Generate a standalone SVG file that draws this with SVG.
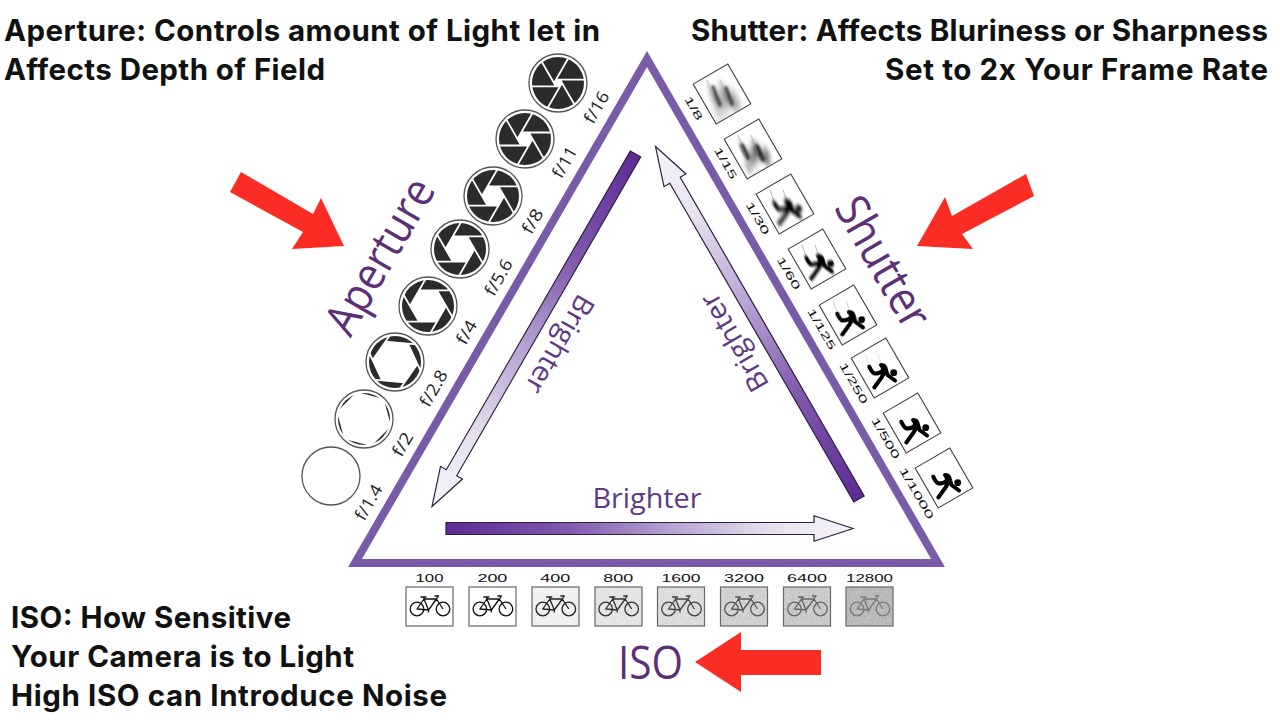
<svg xmlns="http://www.w3.org/2000/svg" width="1280" height="720" viewBox="0 0 1280 720">
<style>
.cap{font-family:"Inter","Liberation Sans",sans-serif;font-weight:700;font-size:29.5px;fill:#111}
.big{font-family:"Open Sans","Noto Sans",sans-serif;font-weight:400;fill:#5c2f78;text-anchor:middle;dominant-baseline:central}
.br{font-family:"Open Sans","Noto Sans",sans-serif;font-weight:400;font-size:28px;fill:#5e3a82;text-anchor:middle;dominant-baseline:central}
.f{font-family:"Open Sans","Noto Sans",sans-serif;font-size:17px;fill:#222;text-anchor:middle;dominant-baseline:central}
.sp{font-family:"Liberation Sans",Arial,sans-serif;font-size:10.5px;fill:#111;text-anchor:middle;dominant-baseline:central}
.ring{fill:#fff;stroke:#555;stroke-width:1.3}
.disc{fill:#2b2b2b}
.iris{fill:#fff}
.blade{fill:none;stroke:#fff;stroke-width:1.8;vector-effect:non-scaling-stroke}
.frame{fill:#fff;stroke:#444;stroke-width:1.1}
.isobox{stroke:#666;stroke-width:1.2}
.red{fill:#fb2c24}
.runner{fill:none;stroke:#000;stroke-width:4;stroke-linecap:round;stroke-linejoin:round}
.streak{fill:none;stroke:#999;stroke-width:1}
.smear{fill:none;stroke:#222;stroke-width:3.5;stroke-linecap:round}
.bike{fill:none;stroke-width:1.3;stroke-linejoin:round}
.arr{fill:url(#ag);stroke:#2d2140;stroke-width:1.2}
</style>
<defs>
<linearGradient id="ag" gradientUnits="userSpaceOnUse" x1="0" y1="0" x2="407" y2="0">
<stop offset="0" stop-color="#5c2b95"/><stop offset=".3" stop-color="#8059ad"/><stop offset=".55" stop-color="#b7a2d2"/><stop offset=".8" stop-color="#e6e0ef"/><stop offset="1" stop-color="#f7f6fa"/>
</linearGradient>
<path id="arrow" class="arr" d="M0-6H368V-12.7L407 0 368 12.7V6H0Z"/>
<clipPath id="irisclip"><circle r="26.5"/></clipPath>
<clipPath id="sc"><rect x="-22.5" y="-19.5" width="45" height="39"/></clipPath>
<g id="iris">
<polygon class="iris" points="1,0 .5,.866 -.5,.866 -1,0 -.5,-.866 .5,-.866"/>
<path class="blade" d="M-.5-.866L10.5-.866M.5-.866L6 8.66M1 0L-4.5 9.526M.5 .866L-10.5 .866M-.5 .866L-6-8.66M-1 0L4.5-9.526"/>
</g>
<g id="runner">
<circle cx="13.7" cy="4.7" r="3.4" fill="#000"/>
<path class="runner" d="M-10.7-1.3Q-8.5 4-5.5 5.5Q0 5.5 2.5 3Q4-.5 1-3Q4.5-3 5.5 0L7.5 7L15 12.5M3.5 6Q1.5 10-1 13L-5.7 19.5"/>
</g>
<path id="streaks" class="streak" d="M-15-14L-7 8M-2-14L5 5"/>
<filter id="b8" x="-100%" y="-100%" width="300%" height="300%"><feGaussianBlur stdDeviation="8 2"/></filter>
<filter id="b15" x="-100%" y="-100%" width="300%" height="300%"><feGaussianBlur stdDeviation="5.5 1.6"/></filter>
<filter id="b30" x="-100%" y="-100%" width="300%" height="300%"><feGaussianBlur stdDeviation="2.2 1"/></filter>
<filter id="b60" x="-100%" y="-100%" width="300%" height="300%"><feGaussianBlur stdDeviation="1.4 .7"/></filter>
<filter id="b125" x="-100%" y="-100%" width="300%" height="300%"><feGaussianBlur stdDeviation=".6 .3"/></filter>
<filter id="smear" x="-100%" y="-100%" width="300%" height="300%"><feGaussianBlur stdDeviation="1.3"/></filter>
<filter id="noise" x="0" y="0" width="100%" height="100%"><feTurbulence type="fractalNoise" baseFrequency="1.1" numOctaves="2" seed="4"/><feColorMatrix type="matrix" values="0 0 0 0 .2 0 0 0 0 .2 0 0 0 0 .2 3 0 0 0 -1.2"/></filter>
<g id="bike">
<circle cx="-12.5" cy="2.5" r="6.8"/><circle cx="13.5" cy="2.5" r="6.8"/>
<path d="M-12.5 2.5L-5.5-7.5H7L-1 3.5ZM-5.5-7.5L-1 3.5M7-7.5L13.5 2.5M-9-9.5H-3M-5.5-9.5V-7.5M5-10.5H9L7-7.5M-1 3.5V6"/>
</g>
</defs>
<rect width="1280" height="720" fill="#fff"/>

<g id="triangle"><path d="M647 59L355 563H938Z" fill="none" stroke="#7a5ba8" stroke-width="8" stroke-miterlimit="10"/></g>

<g id="connectors">
<use href="#arrow" transform="translate(635.5,154) rotate(120)"/>
<use href="#arrow" transform="translate(859,499) rotate(240)"/>
<use href="#arrow" transform="translate(446,528.5)"/>
<polygon class="red" points="241,172 313,214 321,198 344,246 292,249 303,232 230,192"/>
<polygon class="red" points="1026,174 952,216 945,197 917,246 973,249 962,234 1034,196"/>
<polygon class="red" points="821,650 741,650 741,632 695,662 741,692 741,675 821,675"/>
</g>

<g id="texts">
<text class="cap" x="4" y="41" textLength="596">Aperture: Controls amount of Light let in</text>
<text class="cap" x="4" y="80" textLength="321">Affects Depth of Field</text>
<text class="cap" x="691" y="41" textLength="577">Shutter: Affects Bluriness or Sharpness</text>
<text class="cap" x="885" y="80" textLength="383">Set to 2x Your Frame Rate</text>
<text class="cap" x="11" y="628" textLength="280">ISO: How Sensitive</text>
<text class="cap" x="11" y="667" textLength="343">Your Camera is to Light</text>
<text class="cap" x="11" y="706" textLength="436">High ISO can Introduce Noise</text>
<text class="big" font-size="46" textLength="172" lengthAdjust="spacingAndGlyphs" transform="translate(378,255) rotate(-60)">Aperture</text>
<text class="big" font-size="46" textLength="144" lengthAdjust="spacingAndGlyphs" transform="translate(885,261) rotate(60)">Shutter</text>
<text class="big" font-size="46" textLength="65" lengthAdjust="spacingAndGlyphs" x="650.5" y="661">ISO</text>
<text class="br" textLength="109" lengthAdjust="spacingAndGlyphs" x="647" y="497">Brighter</text>
<text class="br" textLength="109" lengthAdjust="spacingAndGlyphs" transform="translate(561,345) rotate(120)">Brighter</text>
<text class="br" textLength="109" lengthAdjust="spacingAndGlyphs" transform="translate(733,343) rotate(-120)">Brighter</text>
</g>

<g id="aperture">
<g id="f1-4"><circle class="ring" cx="331" cy="476" r="29"/><text class="f" textLength="38" lengthAdjust="spacingAndGlyphs" transform="translate(368,502) rotate(-60)">f/1.4</text></g>
<g id="f2"><g transform="translate(364,419)"><circle class="ring" r="29"/><circle class="disc" r="26"/><g clip-path="url(#irisclip)"><use href="#iris" transform="rotate(15) scale(27)"/></g></g><text class="f" textLength="25" lengthAdjust="spacingAndGlyphs" transform="translate(402,444) rotate(-60)">f/2</text></g>
<g id="f2-8"><g transform="translate(395,362)"><circle class="ring" r="29"/><circle class="disc" r="26"/><g clip-path="url(#irisclip)"><use href="#iris" transform="rotate(5) scale(22.5)"/></g></g><text class="f" textLength="39" lengthAdjust="spacingAndGlyphs" transform="translate(433,388) rotate(-60)">f/2.8</text></g>
<g id="f4"><g transform="translate(428,306)"><circle class="ring" r="29"/><circle class="disc" r="26"/><g clip-path="url(#irisclip)"><use href="#iris" transform="scale(18)"/></g></g><text class="f" textLength="25" lengthAdjust="spacingAndGlyphs" transform="translate(466,332) rotate(-60)">f/4</text></g>
<g id="f5-6"><g transform="translate(460,249)"><circle class="ring" r="29"/><circle class="disc" r="26"/><g clip-path="url(#irisclip)"><use href="#iris" transform="scale(14.5)"/></g></g><text class="f" textLength="39" lengthAdjust="spacingAndGlyphs" transform="translate(498,277) rotate(-60)">f/5.6</text></g>
<g id="f8"><g transform="translate(493,196)"><circle class="ring" r="29"/><circle class="disc" r="26"/><g clip-path="url(#irisclip)"><use href="#iris" transform="scale(11)"/></g></g><text class="f" textLength="26" lengthAdjust="spacingAndGlyphs" transform="translate(532,221) rotate(-60)">f/8</text></g>
<g id="f11"><g transform="translate(525,139)"><circle class="ring" r="29"/><circle class="disc" r="26"/><g clip-path="url(#irisclip)"><use href="#iris" transform="scale(7.5)"/></g></g><text class="f" textLength="33" lengthAdjust="spacingAndGlyphs" transform="translate(564,162) rotate(-60)">f/11</text></g>
<g id="f16"><g transform="translate(558,83)"><circle class="ring" r="29"/><circle class="disc" r="26"/><g clip-path="url(#irisclip)"><use href="#iris" transform="scale(4)"/></g></g><text class="f" textLength="34" lengthAdjust="spacingAndGlyphs" transform="translate(596,107) rotate(-60)">f/16</text></g>
</g>

<g id="shutter">
<g id="s8"><g transform="translate(722,94) rotate(60)"><rect class="frame" x="-23" y="-20" width="46" height="40"/><g clip-path="url(#sc)"><g transform="rotate(8)" filter="url(#b8)" opacity=".7"><use href="#runner" transform="rotate(-68)"/></g><g transform="rotate(-60)" filter="url(#smear)"><path class="smear" opacity=".75" d="M-9-7L-2 11M4-6L10 10"/></g><g transform="rotate(-60)"><use href="#streaks" opacity=".5"/></g></g></g><text class="sp" textLength="26" lengthAdjust="spacingAndGlyphs" transform="translate(694,108) rotate(60)">1/8</text></g>
<g id="s15"><g transform="translate(753,149) rotate(60)"><rect class="frame" x="-23" y="-20" width="46" height="40"/><g clip-path="url(#sc)"><g transform="rotate(8)" filter="url(#b15)" opacity=".8"><use href="#runner" transform="rotate(-68)"/></g><g transform="rotate(-60)" filter="url(#smear)"><path class="smear" opacity=".85" d="M-11-4L-5 9M4-3L10 11"/></g><g transform="rotate(-60)"><use href="#streaks" opacity=".6"/></g></g></g><text class="sp" textLength="35" lengthAdjust="spacingAndGlyphs" transform="translate(726,163) rotate(60)">1/15</text></g>
<g id="s30"><g transform="translate(785,204) rotate(60)"><rect class="frame" x="-23" y="-20" width="46" height="40"/><g clip-path="url(#sc)"><g transform="rotate(-60)"><use href="#streaks" opacity=".7"/></g><g transform="rotate(8)" filter="url(#b30)"><use href="#runner" transform="rotate(-68)"/></g></g></g><text class="sp" textLength="36" lengthAdjust="spacingAndGlyphs" transform="translate(758,218) rotate(60)">1/30</text></g>
<g id="s60"><g transform="translate(817,259) rotate(60)"><rect class="frame" x="-23" y="-20" width="46" height="40"/><g clip-path="url(#sc)"><g transform="rotate(-60)"><use href="#streaks" opacity=".7"/></g><g transform="rotate(8)" filter="url(#b60)"><use href="#runner" transform="rotate(-68)"/></g></g></g><text class="sp" textLength="36" lengthAdjust="spacingAndGlyphs" transform="translate(789,273) rotate(60)">1/60</text></g>
<g id="s125"><g transform="translate(848,315) rotate(60)"><rect class="frame" x="-23" y="-20" width="46" height="40"/><g clip-path="url(#sc)"><g transform="rotate(-60)"><use href="#streaks" opacity=".45"/></g><g transform="rotate(8)" filter="url(#b125)"><use href="#runner" transform="rotate(-68)"/></g></g></g><text class="sp" textLength="46" lengthAdjust="spacingAndGlyphs" transform="translate(822,329) rotate(60)">1/125</text></g>
<g id="s250"><g transform="translate(880,368) rotate(60)"><rect class="frame" x="-23" y="-20" width="46" height="40"/><g transform="rotate(-60)"><use href="#streaks" opacity=".25"/><use href="#runner"/></g></g><text class="sp" textLength="46" lengthAdjust="spacingAndGlyphs" transform="translate(854,383) rotate(60)">1/250</text></g>
<g id="s500"><g transform="translate(912,423) rotate(60)"><rect class="frame" x="-23" y="-20" width="46" height="40"/><g transform="rotate(-60)"><use href="#streaks" opacity=".12"/><use href="#runner"/></g></g><text class="sp" textLength="46" lengthAdjust="spacingAndGlyphs" transform="translate(886,438) rotate(60)">1/500</text></g>
<g id="s1000"><g transform="translate(944,478) rotate(60)"><rect class="frame" x="-23" y="-20" width="46" height="40"/><g transform="rotate(-60)"><use href="#runner"/></g></g><text class="sp" textLength="58" lengthAdjust="spacingAndGlyphs" transform="translate(917,493) rotate(60)">1/1000</text></g>
</g>

<g id="iso">
<g id="i100"><rect class="isobox" x="406" y="587" width="47" height="39" fill="#fff"/><use href="#bike" x="429.5" y="606.5" stroke="#111" class="bike"/><text class="sp" x="429.5" y="578" textLength="28" lengthAdjust="spacingAndGlyphs">100</text></g>
<g id="i200"><rect class="isobox" x="469" y="587" width="47" height="39" fill="#fff"/><use href="#bike" x="492.4" y="606.5" stroke="#111" class="bike"/><text class="sp" x="492.4" y="578" textLength="30" lengthAdjust="spacingAndGlyphs">200</text></g>
<g id="i400"><rect class="isobox" x="532" y="587" width="47" height="39" fill="#f4f4f4"/><rect x="532" y="587" width="47" height="39" filter="url(#noise)" opacity=".08"/><use href="#bike" x="555.3" y="606.5" stroke="#222" class="bike"/><text class="sp" x="555.3" y="578" textLength="30" lengthAdjust="spacingAndGlyphs">400</text></g>
<g id="i800"><rect class="isobox" x="595" y="587" width="47" height="39" fill="#e9e9e9"/><rect x="595" y="587" width="47" height="39" filter="url(#noise)" opacity=".12"/><use href="#bike" x="618.2" y="606.5" stroke="#333" class="bike"/><text class="sp" x="618.2" y="578" textLength="30" lengthAdjust="spacingAndGlyphs">800</text></g>
<g id="i1600"><rect class="isobox" x="657.5" y="587" width="47" height="39" fill="#e2e2e2"/><rect x="657.5" y="587" width="47" height="39" filter="url(#noise)" opacity=".16"/><use href="#bike" x="681" y="606.5" stroke="#444" class="bike"/><text class="sp" x="681" y="578" textLength="39" lengthAdjust="spacingAndGlyphs">1600</text></g>
<g id="i3200"><rect class="isobox" x="720.5" y="587" width="47" height="39" fill="#d8d8d8"/><rect x="720.5" y="587" width="47" height="39" filter="url(#noise)" opacity=".22"/><use href="#bike" x="744" y="606.5" stroke="#555" class="bike"/><text class="sp" x="744" y="578" textLength="40" lengthAdjust="spacingAndGlyphs">3200</text></g>
<g id="i6400"><rect class="isobox" x="783.5" y="587" width="47" height="39" fill="#d2d2d2"/><rect x="783.5" y="587" width="47" height="39" filter="url(#noise)" opacity=".28"/><use href="#bike" x="807" y="606.5" stroke="#666" class="bike"/><text class="sp" x="807" y="578" textLength="40" lengthAdjust="spacingAndGlyphs">6400</text></g>
<g id="i12800"><rect class="isobox" x="846" y="587" width="47" height="39" fill="#c2c2c2"/><rect x="846" y="587" width="47" height="39" filter="url(#noise)" opacity=".35"/><use href="#bike" x="869.5" y="606.5" stroke="#7a7a7a" class="bike"/><text class="sp" x="869.5" y="578" textLength="47" lengthAdjust="spacingAndGlyphs">12800</text></g>
</g>
</svg>
